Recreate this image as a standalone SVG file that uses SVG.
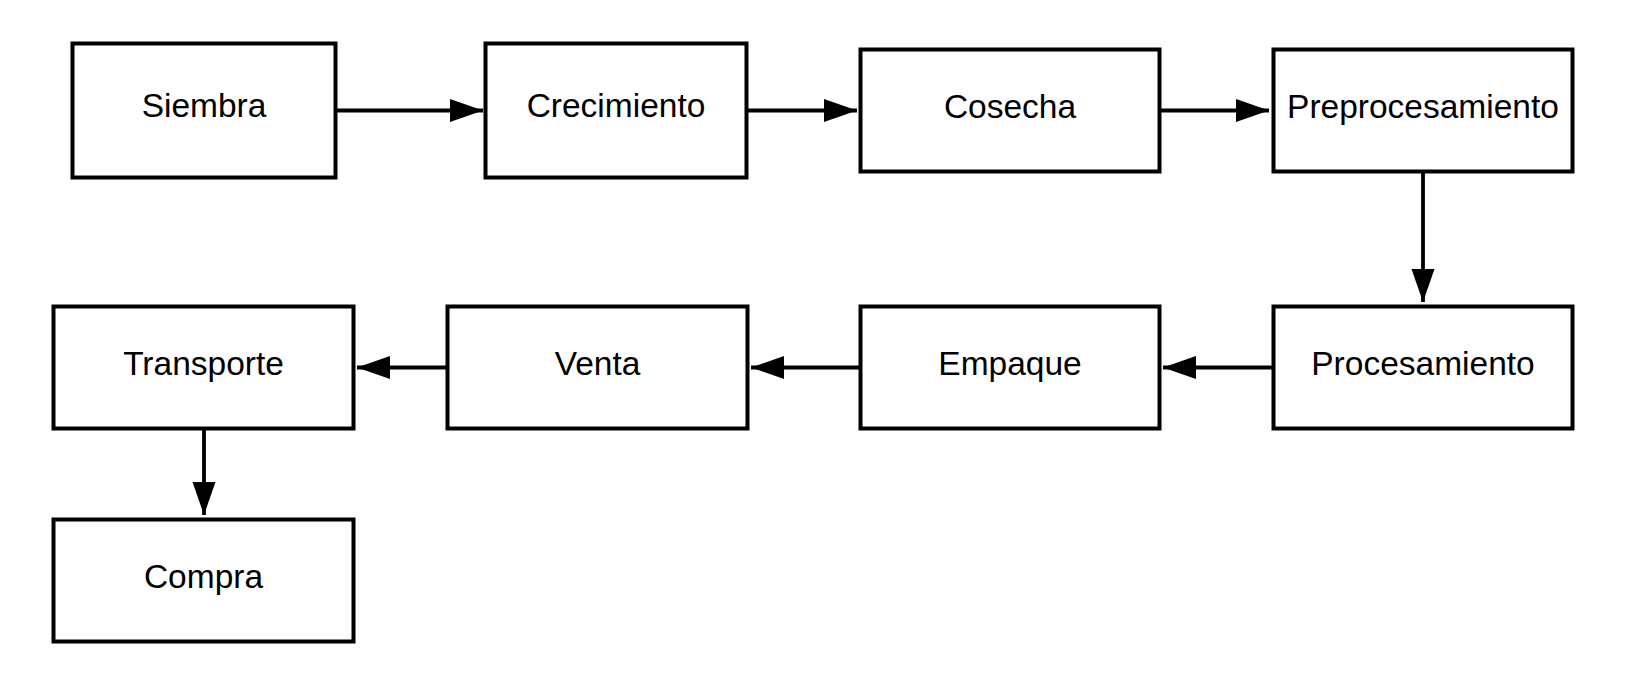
<svg xmlns="http://www.w3.org/2000/svg" width="1648" height="696" viewBox="0 0 1648 696">
<style>
.box{fill:#fff;stroke:#000;stroke-width:4}
.lbl{font-family:"Liberation Sans",Arial,sans-serif;font-size:33.5px;fill:#000;text-anchor:middle}
.edge{stroke:#000;stroke-width:3.8;fill:none}
</style>
<defs>
<marker id="arr" markerUnits="userSpaceOnUse" markerWidth="34" markerHeight="24" refX="33" refY="11.5" orient="auto">
<path d="M0,0 L33,11.5 L0,23 Z" fill="#000"/>
</marker>
</defs>
<rect width="1648" height="696" fill="#fff"/>
<g id="connectors">
<line class="edge" x1="335" y1="110.5" x2="483" y2="110.5" marker-end="url(#arr)"/>
<line class="edge" x1="747" y1="110.5" x2="857" y2="110.5" marker-end="url(#arr)"/>
<line class="edge" x1="1160" y1="110.5" x2="1269" y2="110.5" marker-end="url(#arr)"/>
<line class="edge" x1="1423" y1="172" x2="1423" y2="302" marker-end="url(#arr)"/>
<line class="edge" x1="1273" y1="367.5" x2="1163" y2="367.5" marker-end="url(#arr)"/>
<line class="edge" x1="860" y1="367.5" x2="751" y2="367.5" marker-end="url(#arr)"/>
<line class="edge" x1="447" y1="367.5" x2="357" y2="367.5" marker-end="url(#arr)"/>
<line class="edge" x1="204" y1="429" x2="204" y2="515" marker-end="url(#arr)"/>
</g>
<g id="siembra"><rect class="box" x="72.5" y="43.5" width="263" height="134"/><text class="lbl" x="204" y="117">Siembra</text></g>
<g id="crecimiento"><rect class="box" x="485.5" y="43.5" width="261" height="134"/><text class="lbl" x="616" y="117">Crecimiento</text></g>
<g id="cosecha"><rect class="box" x="860.5" y="49.5" width="299" height="122"/><text class="lbl" x="1010" y="118">Cosecha</text></g>
<g id="preprocesamiento"><rect class="box" x="1273.5" y="49.5" width="299" height="122"/><text class="lbl" x="1423" y="118">Preprocesamiento</text></g>
<g id="procesamiento"><rect class="box" x="1273.5" y="306.5" width="299" height="122"/><text class="lbl" x="1423" y="375">Procesamiento</text></g>
<g id="empaque"><rect class="box" x="860.5" y="306.5" width="299" height="122"/><text class="lbl" x="1010" y="375">Empaque</text></g>
<g id="venta"><rect class="box" x="447.5" y="306.5" width="300" height="122"/><text class="lbl" x="597.5" y="375">Venta</text></g>
<g id="transporte"><rect class="box" x="53.5" y="306.5" width="300" height="122"/><text class="lbl" x="203.5" y="375">Transporte</text></g>
<g id="compra"><rect class="box" x="53.5" y="519.5" width="300" height="122"/><text class="lbl" x="203.5" y="588">Compra</text></g>
</svg>
